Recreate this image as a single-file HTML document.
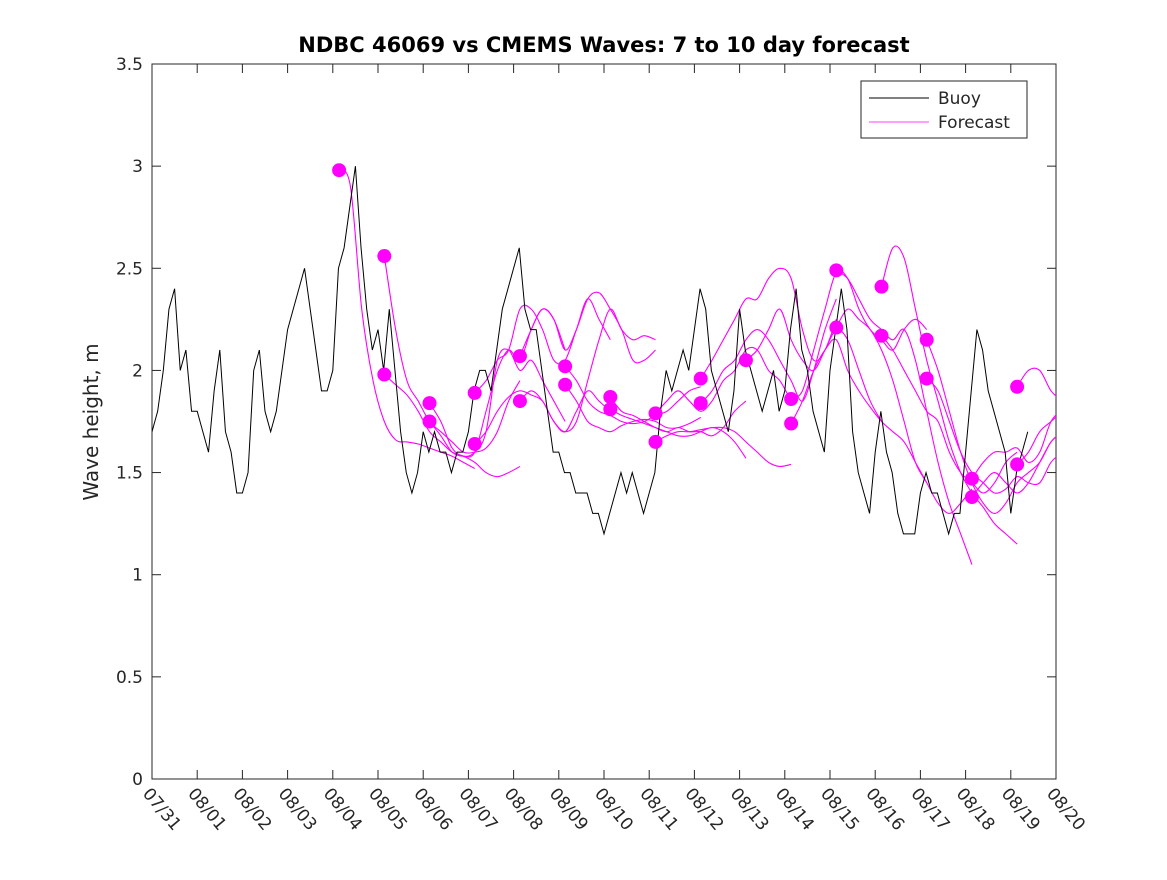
<!DOCTYPE html>
<html><head><meta charset="utf-8"><style>
body{margin:0;background:#fff;}
svg text{font-family:"DejaVu Sans","Liberation Sans",sans-serif;fill:#262626;}
</style></head><body>
<svg id="chart" width="1167" height="875" xmlns="http://www.w3.org/2000/svg">
<rect x="0" y="0" width="1167" height="875" fill="#fff"/>
<text x="604" y="52" text-anchor="middle" font-size="21" font-weight="bold" style="fill:#000">NDBC 46069 vs CMEMS Waves: 7 to 10 day forecast</text>
<text transform="translate(98,422) rotate(-90)" text-anchor="middle" font-size="20">Wave height, m</text>
<defs><clipPath id="clip"><rect x="152" y="64" width="904" height="715"/></clipPath></defs>
<g id="axes"></g>
<g id="series" clip-path="url(#clip)"></g>
<g id="dots"></g>
<g>
<rect x="861" y="81" width="166" height="57" fill="#fff" stroke="#262626" stroke-width="1"/>
<line x1="869" y1="98" x2="929" y2="98" stroke="#000" stroke-width="1"/>
<text x="938" y="104" font-size="17">Buoy</text>
<line x1="869" y1="122" x2="929" y2="122" stroke="#f0f" stroke-width="0.8"/>
<text x="938" y="128" font-size="17">Forecast</text>
</g>
</svg>
<script>
const xLabels=["07/31","08/01","08/02","08/03","08/04","08/05","08/06","08/07","08/08","08/09","08/10","08/11","08/12","08/13","08/14","08/15","08/16","08/17","08/18","08/19","08/20"];
const yTicks=[0,0.5,1,1.5,2,2.5,3,3.5];
const yTickLabels=["0","0.5","1","1.5","2","2.5","3","3.5"];
const buoyStep=0.125;
const buoyValues=[
1.7,1.8,2.0,2.3,2.4,2.0,2.1,1.8,
1.8,1.7,1.6,1.9,2.1,1.7,1.6,1.4,
1.4,1.5,2.0,2.1,1.8,1.7,1.8,2.0,
2.2,2.3,2.4,2.5,2.3,2.1,1.9,1.9,
2.0,2.5,2.6,2.8,3.0,2.6,2.3,2.1,
2.2,2.0,2.3,2.0,1.7,1.5,1.4,1.5,
1.7,1.6,1.7,1.6,1.6,1.5,1.6,1.6,
1.7,1.9,2.0,2.0,1.9,2.1,2.3,2.4,
2.5,2.6,2.3,2.2,2.2,2.0,1.8,1.6,
1.6,1.5,1.5,1.4,1.4,1.4,1.3,1.3,
1.2,1.3,1.4,1.5,1.4,1.5,1.4,1.3,
1.4,1.5,1.8,2.0,1.9,2.0,2.1,2.0,
2.2,2.4,2.3,2.0,1.9,1.8,1.7,1.9,
2.3,2.1,2.0,1.9,1.8,1.9,2.0,1.8,
1.9,2.2,2.4,2.1,2.0,1.8,1.7,1.6,
2.0,2.2,2.4,2.2,1.7,1.5,1.4,1.3,
1.6,1.8,1.6,1.5,1.3,1.2,1.2,1.2,
1.4,1.5,1.4,1.4,1.3,1.2,1.3,1.3,
1.6,1.9,2.2,2.1,1.9,1.8,1.7,1.6,
1.3,1.5,1.6,1.7];
const fcStep=0.25;
const fcStarts=[4.14,5.14,5.14,6.14,6.14,7.14,7.14,8.14,8.14,9.14,9.14,10.14,10.14,11.14,11.14,12.14,12.14,13.14,14.14,14.14,15.14,15.14,16.14,16.14,17.14,17.14,18.14,18.14,19.14,19.14];
const fcValues=[
[2.98,2.9,2.3,1.95,1.75,1.66,1.65,1.64,1.62,1.6,1.58,1.55,1.52],
[2.56,2.2,1.95,1.85,1.75,1.7,1.65,1.6,1.6,1.62,1.7,1.85,1.95],
[1.98,1.93,1.88,1.8,1.7,1.65,1.6,1.58,1.55,1.5,1.48,1.5,1.53],
[1.84,1.75,1.62,1.58,1.6,1.7,2.05,2.1,2.0,2.05,1.95,1.85,1.75],
[1.75,1.68,1.6,1.58,1.6,1.8,2.0,2.1,2.05,2.2,2.3,2.25,2.1],
[1.89,1.95,2.05,2.1,2.3,2.3,2.2,2.05,2.05,2.2,2.35,2.25,2.15],
[1.64,1.7,1.8,1.87,1.9,1.88,1.85,1.75,1.7,1.8,1.9,1.85,1.8],
[2.07,2.2,2.3,2.25,2.1,2.2,2.35,2.38,2.3,2.2,2.05,2.05,2.1],
[1.85,1.9,1.85,1.75,1.7,1.75,1.95,2.15,2.3,2.2,2.15,2.17,2.15],
[2.02,1.95,1.85,1.8,1.78,1.75,1.74,1.75,1.78,1.8,1.85,1.9,1.92],
[1.93,1.85,1.75,1.72,1.7,1.73,1.75,1.76,1.75,1.72,1.72,1.74,1.77],
[1.87,1.8,1.78,1.75,1.72,1.7,1.72,1.7,1.7,1.68,1.72,1.8,1.85],
[1.81,1.78,1.76,1.74,1.72,1.7,1.68,1.68,1.7,1.72,1.7,1.65,1.57],
[1.79,1.85,1.9,1.85,1.8,1.85,1.95,2.0,2.1,2.1,2.0,1.95,1.85],
[1.65,1.68,1.7,1.7,1.71,1.72,1.72,1.7,1.65,1.6,1.55,1.53,1.54],
[1.96,2.05,2.15,2.25,2.35,2.35,2.45,2.5,2.45,2.2,2.05,2.1,2.25],
[1.84,1.9,2.0,2.05,2.15,2.2,2.15,2.05,1.95,1.85,2.0,2.2,2.35],
[2.05,2.1,2.2,2.3,2.15,2.05,2.0,2.1,2.2,2.15,2.0,1.85,1.75],
[1.86,1.9,2.1,2.3,2.48,2.45,2.3,2.2,2.15,2.1,2.2,2.25,2.2],
[1.74,1.85,2.0,2.1,2.15,2.0,1.9,1.82,1.75,1.7,1.65,1.55,1.45],
[2.49,2.45,2.35,2.25,2.2,2.15,2.2,2.05,1.8,1.55,1.35,1.2,1.05],
[2.21,2.3,2.25,2.2,2.1,1.95,1.75,1.55,1.45,1.35,1.3,1.35,1.42],
[2.41,2.6,2.55,2.3,2.05,1.85,1.65,1.5,1.4,1.33,1.25,1.2,1.15],
[2.17,2.1,2.0,1.9,1.8,1.75,1.6,1.5,1.45,1.4,1.45,1.55,1.6],
[2.15,2.0,1.8,1.6,1.45,1.35,1.3,1.35,1.45,1.5,1.55,1.65,1.7],
[1.96,1.9,1.75,1.6,1.5,1.45,1.4,1.42,1.48,1.45,1.45,1.55,1.6],
[1.47,1.55,1.6,1.6,1.62,1.55,1.6,1.75,1.8,1.8,1.85],
[1.38,1.45,1.5,1.45,1.4,1.45,1.55,1.65,1.7,1.75,1.78],
[1.92,2.0,2.0,1.9,1.85,1.82,1.95],
[1.54,1.6,1.7,1.75,1.8,1.85]];
const dotDays=[4.14,5.14,5.14,6.14,6.14,7.14,7.14,8.14,8.14,9.14,9.14,10.14,10.14,11.14,11.14,12.14,12.14,13.14,14.14,14.14,15.14,15.14,16.14,16.14,17.14,17.14,18.14,18.14,19.14,19.14];
const dotValues=[2.98,2.56,1.98,1.84,1.75,1.89,1.64,2.07,1.85,2.02,1.93,1.87,1.81,1.79,1.65,1.96,1.84,2.05,1.86,1.74,2.49,2.21,2.41,2.17,2.15,1.96,1.47,1.38,1.92,1.54];

const X0=152,X1=1056,Y0=779,Y1=64;
function xs(d){return X0+(X1-X0)*d/20;}
function ys(v){return Y0-(Y0-Y1)*v/3.5;}
const NS="http://www.w3.org/2000/svg";
function mk(tag,attrs,parent){const e=document.createElementNS(NS,tag);for(const k in attrs)e.setAttribute(k,attrs[k]);parent.appendChild(e);return e;}
const axes=document.getElementById('axes');
let box=mk('rect',{x:X0,y:Y1,width:X1-X0,height:Y0-Y1,fill:'none',stroke:'#262626','stroke-width':1},axes);


yTicks.forEach((v,i)=>{
  const y=ys(v);
  let t1=mk('line',{x1:X0,x2:X0+9,y1:y,y2:y,stroke:'#262626'},axes);
  
  
  let t2=mk('line',{x1:X1,x2:X1-9,y1:y,y2:y,stroke:'#262626'},axes);
  
  
  let tx=mk('text',{x:X0-9,y:y+6,'text-anchor':'end','font-size':17},axes);
  tx.textContent=yTickLabels[i];
  
  
});
xLabels.forEach((l,i)=>{
  const x=xs(i);
  let t1=mk('line',{x1:x,x2:x,y1:Y0,y2:Y0-9,stroke:'#262626'},axes);
  
  
  let t2=mk('line',{x1:x,x2:x,y1:Y1,y2:Y1+9,stroke:'#262626'},axes);
  
  
  let tx=mk('text',{transform:`translate(${x-10},${Y0+15}) rotate(50)`,'font-size':17},axes);
  tx.textContent=l;
  
  
});
const series=document.getElementById('series');
function smooth(pts){
  let d=`M${pts[0][0]},${pts[0][1]}`;
  for(let i=0;i<pts.length-1;i++){
    const p0=pts[Math.max(0,i-1)],p1=pts[i],p2=pts[i+1],p3=pts[Math.min(pts.length-1,i+2)];
    const c1=[p1[0]+(p2[0]-p0[0])/6,p1[1]+(p2[1]-p0[1])/6];
    const c2=[p2[0]-(p3[0]-p1[0])/6,p2[1]-(p3[1]-p1[1])/6];
    d+=` C${c1[0]},${c1[1]} ${c2[0]},${c2[1]} ${p2[0]},${p2[1]}`;
  }
  return d;
}
fcValues.forEach((vals,i)=>{
  const pts=vals.map((v,k)=>[xs(fcStarts[i]+k*fcStep),ys(v)]);
  let p=mk('path',{d:smooth(pts),fill:'none',stroke:'#f0f','stroke-width':1.1},series);
  
  
});
const bd=buoyValues.map((v,k)=>(k?'L':'M')+xs(k*buoyStep)+','+ys(v)).join(' ');
let bl=mk('path',{d:bd,fill:'none',stroke:'#000','stroke-width':1},series);


const dots=document.getElementById('dots');
dotDays.forEach((d,i)=>{
  let c=mk('circle',{cx:xs(d),cy:ys(dotValues[i]),r:7,fill:'#f0f'},dots);
  
  
});
</script>
</body></html>
